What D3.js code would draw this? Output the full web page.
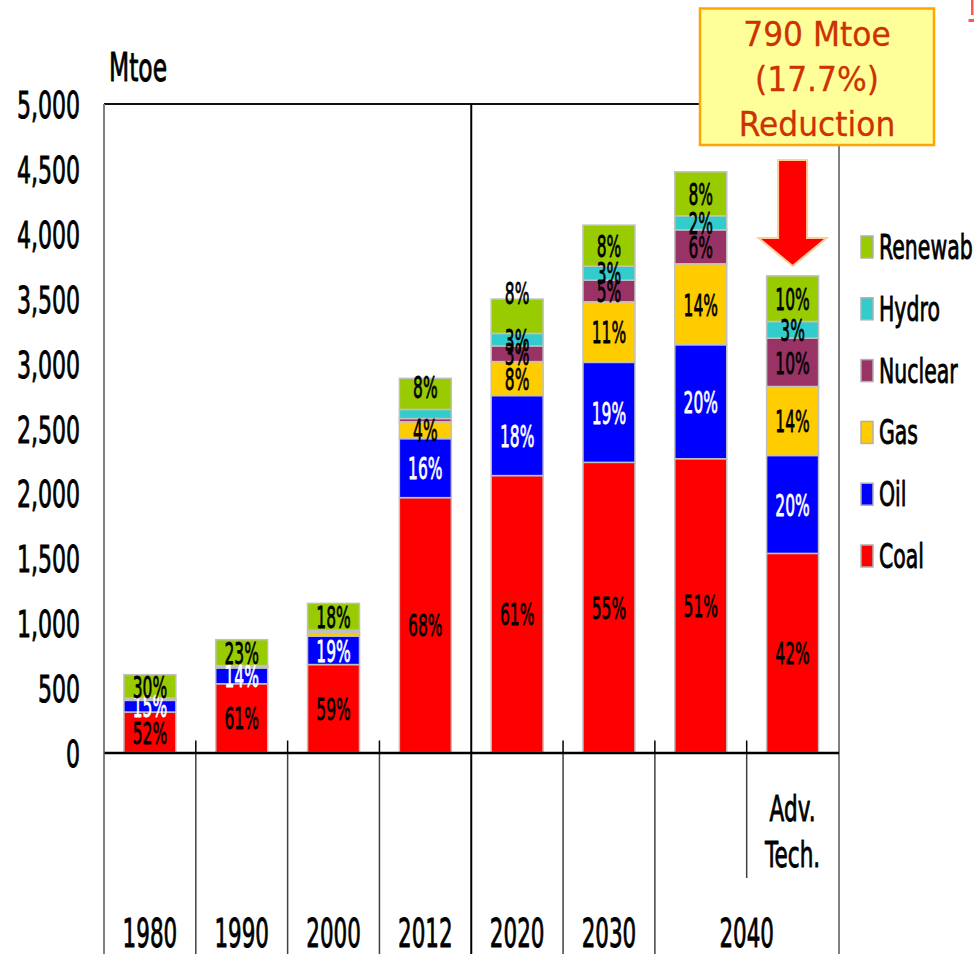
<!DOCTYPE html>
<html>
<head>
<meta charset="utf-8">
<script src="https://cdn.jsdelivr.net/npm/d3@7"></script>
<style>
  html, body { margin: 0; padding: 0; background: #fff; }
  svg { display: block; font-family: "DejaVu Sans", Verdana, sans-serif; }
</style>
</head>
<body>
<svg id="chart" width="974" height="954"></svg>
<script>
// ---------------- DATA (Mtoe) ----------------
const categories = ["1980", "1990", "2000", "2012", "2020", "2030", "2040", "Adv. Tech."];
const coal      = [312, 530, 678, 1965, 2135, 2237, 2265, 1535];
const oil       = [ 90, 122, 219,  455,  617,  771,  879,  755];
const gas       = [  6,  10,  25,  130,  262,  467,  624,  532];
const nuclear   = [  0,   0,   0,   25,  121,  167,  262,  373];
const hydro     = [ 12,   8,  21,   70,   96,  108,  108,  128];
const renewable = [180, 200, 207,  240,  265,  316,  339,  352];

// share labels as printed on the bars
const coalLabels      = ["52%", "61%", "59%", "68%", "61%", "55%", "51%", "42%"];
const oilLabels       = ["15%", "14%", "19%", "16%", "18%", "19%", "20%", "20%"];
const gasLabels       = [null, null, null, "4%", "8%", "11%", "14%", "14%"];
const nuclearLabels   = [null, null, null, null, "3%", "5%", "6%", "10%"];
const hydroLabels     = [null, null, null, null, "3%", "3%", "2%", "3%"];
const renewableLabels = ["30%", "23%", "18%", "8%", "8%", "8%", "8%", "10%"];

const seriesNames = ["Coal", "Oil", "Gas", "Nuclear", "Hydro", "Renewable"];
const legendNames = ["Renewable", "Hydro", "Nuclear", "Gas", "Oil", "Coal"];
const yTicks = [0, 500, 1000, 1500, 2000, 2500, 3000, 3500, 4000, 4500, 5000];
const yearLabels = ["1980", "1990", "2000", "2012", "2020", "2030", "2040"];
const subLabel = ["Adv.", "Tech."];
const unitLabel = "Mtoe";
const calloutLines = ["790 Mtoe", "(17.7%)", "Reduction"];

// ---------------- STYLE ----------------
const colors = {
  Coal: "#ff0000", Oil: "#0000ff", Gas: "#ffcc00",
  Nuclear: "#993366", Hydro: "#33cccc", Renewable: "#99cc00"
};
const labelColors = {
  Coal: "#000", Oil: "#fff", Gas: "#000", Nuclear: "#000", Hydro: "#000", Renewable: "#000"
};
const labelNudge = { "2020|Renewable": -24, "2012|Renewable": -7 };
const outline = "#c0c0c0";

const valuesBy = { Coal: coal, Oil: oil, Gas: gas, Nuclear: nuclear, Hydro: hydro, Renewable: renewable };
const labelsBy = { Coal: coalLabels, Oil: oilLabels, Gas: gasLabels, Nuclear: nuclearLabels, Hydro: hydroLabels, Renewable: renewableLabels };

const table = categories.map((c, i) => {
  const row = { cat: c };
  seriesNames.forEach(s => row[s] = valuesBy[s][i]);
  return row;
});

(function draw() {
const svg = d3.select("#chart");
svg.append("rect").attr("width", 974).attr("height", 954).attr("fill", "#fff");

const pLeft = 104, pRight = 838.5, pTop = 104, pBase = 752.5, pBottom = 954;

const x = d3.scaleBand().domain(categories).range([pLeft, pRight])
  .paddingInner(0.434).paddingOuter(0.217);
const y = d3.scaleLinear().domain([0, 5000]).range([pBase, pTop]);
const bw = x.bandwidth();
const gap = (x.step() - bw) / 2;

// helper for horizontally condensed text
function ctext(g, str, cx, cy, size, sx, anchor, fill, sw) {
  const col = fill || "#000";
  return g.append("text")
    .attr("transform", `translate(${cx},${cy + size * 0.364}) scale(${sx},1)`)
    .attr("text-anchor", anchor)
    .attr("font-size", size)
    .attr("fill", col)
    .attr("stroke", col)
    .attr("stroke-width", sw === undefined ? 0.9 : sw)
    .attr("stroke-linejoin", "round")
    .text(str);
}

// ---------------- FRAME ----------------
const frame = svg.append("g");
frame.append("line").attr("x1", pLeft).attr("x2", pRight + 1).attr("y1", pTop).attr("y2", pTop)
  .attr("stroke", "#111").attr("stroke-width", 2);
frame.append("line").attr("x1", pLeft).attr("x2", pLeft).attr("y1", pTop).attr("y2", pBottom)
  .attr("stroke", "#808080").attr("stroke-width", 2);
frame.append("line").attr("x1", pRight + 0.5).attr("x2", pRight + 0.5).attr("y1", pTop).attr("y2", pBottom)
  .attr("stroke", "#808080").attr("stroke-width", 2);

categories.forEach((c, i) => {
  if (i === 0) return;
  const bx = x(c) - gap;
  if (c === "2020") {
    frame.append("line").attr("x1", bx).attr("x2", bx).attr("y1", pTop).attr("y2", pBottom)
      .attr("stroke", "#000").attr("stroke-width", 2);
  } else {
    frame.append("line").attr("x1", bx).attr("x2", bx).attr("y1", pBase - 12).attr("y2", pBase)
      .attr("stroke", "#000").attr("stroke-width", 1.5);
    frame.append("line").attr("x1", bx).attr("x2", bx).attr("y1", pBase)
      .attr("y2", c === "Adv. Tech." ? 878 : pBottom)
      .attr("stroke", "#404040").attr("stroke-width", 1.5);
  }
});

// ---------------- BARS ----------------
const layers = d3.stack().keys(seriesNames)(table);

const barG = svg.append("g");
layers.forEach(layer => {
  barG.selectAll(null)
    .data(layer.filter(d => d[1] - d[0] > 0))
    .join("rect")
    .attr("x", d => x(d.data.cat))
    .attr("y", d => y(d[1]))
    .attr("width", bw)
    .attr("height", d => y(d[0]) - y(d[1]))
    // very thin slivers show only their grey outline, as in the picture
    .attr("fill", d => (y(d[0]) - y(d[1])) < 3 ? outline : colors[layer.key])
    .attr("stroke", outline)
    .attr("stroke-width", 1.5);
});

// ---------------- AXES ----------------
const xAxis = svg.append("g").attr("transform", `translate(0,${pBase})`)
  .call(d3.axisBottom(x).tickSize(0).tickFormat(""));
xAxis.select(".domain").attr("stroke", "#000").attr("stroke-width", 2.5);

const yAxis = svg.append("g").attr("transform", `translate(${pLeft},0)`)
  .call(d3.axisLeft(y).tickValues(yTicks).tickSize(0).tickFormat(d3.format(",")));
yAxis.select(".domain").remove();
yAxis.selectAll(".tick text")
  .attr("x", null).attr("dy", null)
  .attr("transform", `translate(-24, ${38 * 0.364}) scale(0.58,1)`)
  .attr("text-anchor", "end")
  .attr("font-family", "DejaVu Sans, sans-serif")
  .attr("font-size", 38)
  .attr("fill", "#000")
  .attr("stroke", "#000")
  .attr("stroke-width", 0.9);

const txt = svg.append("g");
ctext(txt, unitLabel, 109, 66.5, 39, 0.6, "start");

// ---------------- SEGMENT LABELS ----------------
const lblG = svg.append("g");
layers.forEach(layer => {
  layer.forEach((d, j) => {
    const lab = labelsBy[layer.key][j];
    if (!lab) return;
    const cx = x(d.data.cat) + bw / 2;
    const cy = (y(d[0]) + y(d[1])) / 2 + (labelNudge[d.data.cat + "|" + layer.key] || 0);
    ctext(lblG, lab, cx, cy, 31, 0.5, "middle", labelColors[layer.key], 0.8);
  });
});

// ---------------- CATEGORY LABELS ----------------
yearLabels.forEach(lab => {
  const cx = lab === "2040" ? (x("2040") + x("Adv. Tech.") + bw) / 2 : x(lab) + bw / 2;
  ctext(txt, lab, cx, 932.5, 39, 0.55, "middle");
});
const advX = x("Adv. Tech.") + bw / 2;
ctext(txt, subLabel[0], advX, 807.5, 36, 0.6, "middle");
ctext(txt, subLabel[1], advX, 854, 36, 0.6, "middle");

// ---------------- LEGEND ----------------
const legG = svg.append("g");
legendNames.forEach((name, i) => {
  const cy = 247 + i * 61.8;
  legG.append("rect").attr("x", 861).attr("y", cy - 11).attr("width", 12).attr("height", 22)
    .attr("fill", colors[name]).attr("stroke", "#b0b0b0").attr("stroke-width", 1.5);
  ctext(legG, name, 879, cy, 33, 0.62, "start");
});

// ---------------- CALLOUT ----------------
const call = svg.append("g");
call.append("rect").attr("x", 700).attr("y", 8.5).attr("width", 234).attr("height", 136.5)
  .attr("fill", "#ffff99").attr("stroke", "#ffa500").attr("stroke-width", 2.5);
[34, 79, 124].forEach((cy, i) => {
  ctext(call, calloutLines[i], 817, cy, 33, 0.95, "middle", "#cc3300", 0.3);
});

const ax = advX;
const arrowPts = [
  [ax - 14.5, 160], [ax + 14.5, 160], [ax + 14.5, 238], [ax + 34, 238],
  [ax, 266], [ax - 34, 238], [ax - 14.5, 238]
];
call.append("polygon").attr("points", arrowPts.map(p => p.join(",")).join(" "))
  .attr("fill", "#ff0000").attr("stroke", "#ffcc99").attr("stroke-width", 2);

svg.append("rect").attr("x", 971).attr("y", 0).attr("width", 2.5).attr("height", 15).attr("fill", "#ff5555");
svg.append("rect").attr("x", 968.5).attr("y", 19).attr("width", 6).attr("height", 3).attr("fill", "#ff5555");
})();
</script>
</body>
</html>
